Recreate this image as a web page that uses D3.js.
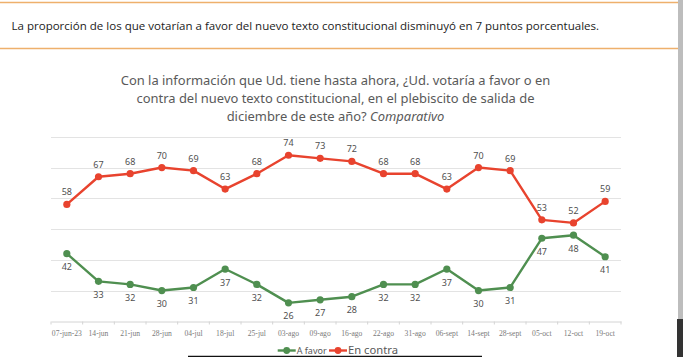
<!DOCTYPE html>
<html><head><meta charset="utf-8">
<script src="https://cdn.jsdelivr.net/npm/d3@7"></script>
<style>html,body{margin:0;padding:0;background:#fff;overflow:hidden}</style>
</head><body>
<svg id="c" width="683" height="357"></svg>
<script>
const categories = ["07-jun-23","14-jun","21-jun","28-jun","04-jul","18-jul","25-jul","03-ago","09-ago","16-ago","22-ago","31-ago","06-sept","14-sept","28-sept","05-oct","12-oct","19-oct"];
const aFavor = [42,33,32,30,31,37,32,26,27,28,32,32,37,30,31,47,48,41];
const enContra = [58,67,68,70,69,63,68,74,73,72,68,68,63,70,69,53,52,59];
const yTicks = [20,30,40,50,60,70,80];
const seriesNames = ["A favor","En contra"];
const headerText = "La proporción de los que votarían a favor del nuevo texto constitucional disminuyó en 7 puntos porcentuales.";
const titleLines = ["Con la información que Ud. tiene hasta ahora, ¿Ud. votaría a favor o en","contra del nuevo texto constitucional, en el plebiscito de salida de","diciembre de este año? "];
const titleItalic = "Comparativo";

const RED = "#e8432e", GREEN = "#4f8f50";
const svg = d3.select("#c");

function fit(sel, target){
  const n = sel.node(); let fs = parseFloat(sel.attr("font-size"));
  const w = n.getComputedTextLength();
  if (w>0) sel.attr("font-size", (fs*target/w).toFixed(2));
  return parseFloat(sel.attr("font-size"));
}

// header
svg.append("line").attr("x1",0).attr("x2",678).attr("y1",2.5).attr("y2",2.5).attr("stroke","#eeb06c").attr("stroke-width",1.5);
svg.append("line").attr("x1",0).attr("x2",678).attr("y1",48.5).attr("y2",48.5).attr("stroke","#eeb06c").attr("stroke-width",1.5);
const h = svg.append("text").attr("x",11.5).attr("y",30).attr("font-family","Open Sans").attr("font-size",11).attr("fill","#222").text(headerText);
fit(h, 588);

// title
const tcx = 335.5;
const t1 = svg.append("text").attr("x",tcx).attr("y",85).attr("text-anchor","middle").attr("font-family","Noto Sans").attr("font-size",12.5).attr("fill","#595959").text(titleLines[0]);
const fs = fit(t1, 430);
svg.append("text").attr("x",tcx).attr("y",102.5).attr("text-anchor","middle").attr("font-family","Noto Sans").attr("font-size",fs).attr("fill","#595959").text(titleLines[1]);
const t3 = svg.append("text").attr("x",tcx).attr("y",120.5).attr("text-anchor","middle").attr("font-family","Noto Sans").attr("font-size",fs).attr("fill","#595959");
t3.append("tspan").text(titleLines[2]);
t3.append("tspan").attr("font-style","italic").text(titleItalic);

// scales
const x = d3.scaleBand().domain(categories).range([51,621]).padding(0);
const y = d3.scaleLinear().domain([20,80]).range([321.3,136.8]);
const cx = c => x(c)+x.bandwidth()/2;

// grid
svg.append("g").selectAll("line").data(yTicks.filter(v=>v>20)).join("line")
  .attr("x1",51).attr("x2",621).attr("y1",d=>Math.round(y(d))+0.5).attr("y2",d=>Math.round(y(d))+0.5)
  .attr("stroke","#e3e3e3").attr("stroke-width",1);

// x axis
const xa = svg.append("g").attr("transform",`translate(0,${Math.round(y(20))+0.5})`)
  .style("opacity",0.995)
  .call(d3.axisBottom(x).tickSize(0).tickPadding(9.5));
xa.select(".domain").attr("stroke","#d4d4d4");
const xl = xa.selectAll("text").attr("font-family","Liberation Serif").attr("font-size",7).attr("fill","#7a7a7a");
const xfs = fit(d3.select(xl.nodes()[0]), 30);
xl.attr("font-size", xfs);
svg.append("g").selectAll("line").data(d3.range(categories.length+1)).join("line")
  .attr("x1",i=>51+i*x.bandwidth()).attr("x2",i=>51+i*x.bandwidth())
  .attr("y1",Math.round(y(20))+0.5).attr("y2",Math.round(y(20))+3.5).attr("stroke","#d4d4d4");

// series
const series = [{name:seriesNames[0],vals:aFavor,color:GREEN,dy:16.5},{name:seriesNames[1],vals:enContra,color:RED,dy:-9}];
const line = d3.line().x((d,i)=>cx(categories[i])).y(d=>y(d));
series.forEach(s=>{
  const g = svg.append("g");
  g.append("path").datum(s.vals).attr("d",line).attr("fill","none").attr("stroke",s.color).attr("stroke-width",2.4).attr("stroke-linejoin","round");
  g.selectAll("circle").data(s.vals).join("circle").attr("cx",(d,i)=>cx(categories[i])).attr("cy",d=>y(d)).attr("r",3.6).attr("fill",s.color);
  g.selectAll("text").data(s.vals).join("text").attr("x",(d,i)=>cx(categories[i])).attr("y",d=>y(d)+s.dy)
    .attr("text-anchor","middle").attr("font-family","Noto Sans").attr("font-size",9).attr("fill","#505050").text(d=>d);
});

// legend
const leg = svg.append("g");
[[277.7,GREEN,seriesNames[0],30],[329,RED,seriesNames[1],50]].forEach(([lx,col,name,w])=>{
  leg.append("line").attr("x1",lx).attr("x2",lx+18).attr("y1",350.5).attr("y2",350.5).attr("stroke",col).attr("stroke-width",2.4);
  leg.append("circle").attr("cx",lx+9).attr("cy",350.5).attr("r",3.4).attr("fill",col);
  const t = leg.append("text").attr("x",lx+19).attr("y",354).attr("font-family","Noto Sans").attr("font-size",9.5).attr("fill","#595959").text(name);
  fit(t, w);
});

// window chrome pieces
svg.append("rect").attr("x",678).attr("y",0).attr("width",5).attr("height",319).attr("fill","#bdbdbd");
svg.append("rect").attr("x",677).attr("y",319).attr("width",6).attr("height",38).attr("fill","#333");
svg.append("line").attr("x1",188).attr("x2",482).attr("y1",356.5).attr("y2",356.5).attr("stroke","#111").attr("stroke-width",1.5);
</script>
</body></html>
